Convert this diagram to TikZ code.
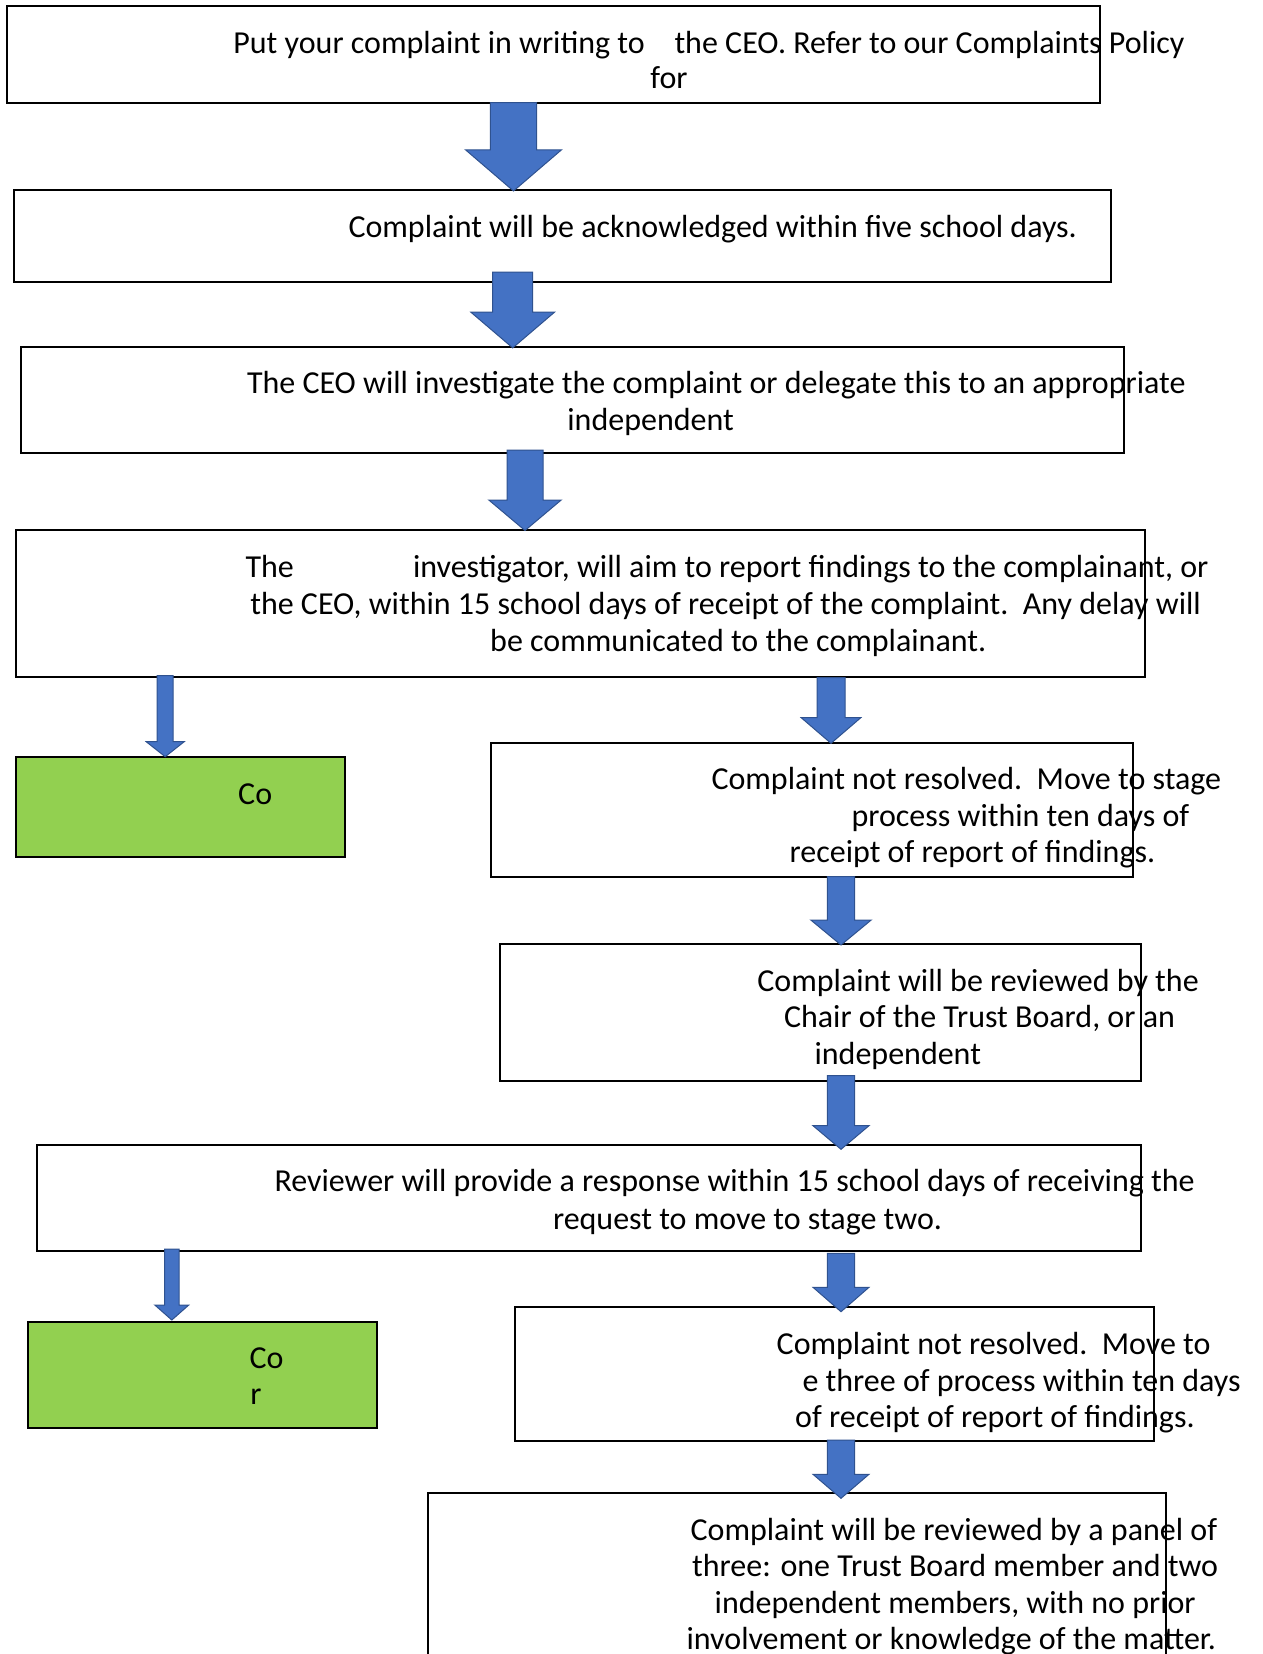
\documentclass[tikz,border=0pt]{standalone}
\usepackage{fontspec}
\setmainfont{Carlito}
\usetikzlibrary{calc}
\definecolor{arrfill}{HTML}{4472C4}
\definecolor{arrline}{HTML}{2F528F}
\definecolor{greenbox}{HTML}{92D050}
\tikzset{
  box/.style={draw=black, line width=2pt, fill=white, anchor=north west, inner sep=0pt, outer sep=0pt},
  gbox/.style={box, fill=greenbox},
  txt/.style={anchor=base west, inner sep=0pt, outer sep=0pt, font=\fontsize{32}{38}\selectfont},
  blockarr/.style={fill=arrfill, draw=arrline, line width=1pt, line join=miter},
}
% #1 x, #2 from node, #3 start offset, #4 to node, #5 shaft half width, #6 head half width, #7 head length, #8 tip offset
\newcommand\barrow[8]{%
  \draw[blockarr] let \p1=(#1,0 |- #2.south), \p2=(#1,0 |- #4.north) in
  ({\x1-#5pt},{\y1-(#3)*1pt}) -- ({\x1-#5pt},{\y2-(#8)*1pt+#7pt}) -- ({\x1-#6pt},{\y2-(#8)*1pt+#7pt})
  -- ({\x1},{\y2-(#8)*1pt}) -- ({\x1+#6pt},{\y2-(#8)*1pt+#7pt}) -- ({\x1+#5pt},{\y2-(#8)*1pt+#7pt})
  -- ({\x1+#5pt},{\y1-(#3)*1pt}) -- cycle;}
\begin{document}
\begin{tikzpicture}[x=1pt,y=-1pt]
\useasboundingbox (0,0) rectangle (1262,1654);
\clip (0,0) rectangle (1262,1654);
% boxes
\node[box, minimum width=1093pt, minimum height=96.5pt] (b1) at (6.5,6) {};
\node[box, minimum width=1097pt, minimum height=91.4pt] (b2) at (13.7,190.3) {};
\node[box, minimum width=1103.5pt, minimum height=106pt] (b3) at (20.9,346.7) {};
\node[box, minimum width=1128.5pt, minimum height=146.7pt] (b4) at (16.1,530) {};
\node[gbox, minimum width=328.4pt, minimum height=100pt] (g1) at (16.1,757.3) {};
\node[box, minimum width=641.5pt, minimum height=134pt] (b5) at (491,742.7) {};
\node[box, minimum width=640.7pt, minimum height=136.4pt] (b6) at (499.8,944.3) {};
\node[box, minimum width=1103.5pt, minimum height=105.7pt] (b7) at (37,1145) {};
\node[gbox, minimum width=348.5pt, minimum height=106.6pt] (g2) at (28.2,1321.7) {};
\node[box, minimum width=639pt, minimum height=134pt] (b8) at (515.1,1306.7) {};
\node[box, minimum width=737.3pt, minimum height=220pt] (b9) at (428.2,1492.7) {};
% arrows
\barrow{513.5}{b1}{0}{b2}{23.2}{48}{41.2}{0.7}
\barrow{512.7}{b2}{-9.7}{b3}{20}{41.8}{35.7}{1.2}
\barrow{525}{b3}{-2.7}{b4}{18}{36.2}{30.5}{0.5}
\barrow{165.2}{b4}{-1}{g1}{8}{19}{15}{-0.6}
\barrow{831}{b4}{1}{b5}{14}{29.8}{25.6}{0.6}
\barrow{841}{b5}{0}{b6}{13.7}{30.2}{25}{0.7}
\barrow{841}{b6}{-5}{b7}{13.7}{28}{23.6}{4.3}
\barrow{171.8}{b7}{-1.7}{g2}{7.3}{17}{15}{-1.7}
\barrow{841}{b7}{2.6}{b8}{13.7}{28}{24.4}{5}
\barrow{841}{b8}{-0.7}{b9}{13.7}{28}{24}{5.6}
% texts
\node[txt] (t1a) at (233.4,53.3) {Put your complaint in writing to};
\node[txt] (t1b) at (674.5,53.3) {the CEO. Refer to our Complaints Policy};
\node[txt] (t1c) at (650.4,88.6) {for};
\node[txt] (t2) at (348.5,237.7) {Complaint will be acknowledged within five school days.};
\node[txt] (t3a) at (247,393.3) {The CEO will investigate the complaint or delegate this to an appropriate};
\node[txt] (t3b) at (567.4,430) {independent};
\node[txt] (t4a) at (245.5,577.7) {The};
\node[txt] (t4b) at (413,577.7) {investigator, will aim to report findings to the complainant, or};
\node[txt] (t4c) at (250.3,614.3) {the CEO, within 15 school days of receipt of the complaint.\ \ Any delay will};
\node[txt] (t4d) at (490.2,651.7) {be communicated to the complainant.};
\node[txt] (tg1) at (238.2,804.3) {Co};
\node[txt] (t5a) at (711.5,789.3) {Complaint not resolved.\ \ Move to stage};
\node[txt] (t5b) at (851.6,826.7) {process within ten days of};
\node[txt] (t5c) at (789.6,862.7) {receipt of report of findings.};
\node[txt] (t6a) at (757.4,991) {Complaint will be reviewed by the};
\node[txt] (t6b) at (784,1027.7) {Chair of the Trust Board, or an};
\node[txt] (t6c) at (814.6,1064.3) {independent};
\node[txt] (t7a) at (274.5,1191.7) {Reviewer will provide a response within 15 school days of receiving the};
\node[txt] (t7b) at (553,1229) {request to move to stage two.};
\node[txt] (tg2a) at (249.5,1368.3) {Co};
\node[txt] (tg2b) at (250.3,1404.3) {r};
\node[txt] (t8a) at (776.7,1354.3) {Complaint not resolved.\ \ Move to};
\node[txt] (t8b) at (802.5,1391) {e three of process within ten days};
\node[txt] (t8c) at (795.2,1427.7) {of receipt of report of findings.};
\node[txt] (t9a) at (690.6,1540) {Complaint will be reviewed by a panel of};
\node[txt] (t9b) at (692.2,1576.7) {three: one Trust Board member and two};
\node[txt] (t9c) at (714.7,1613.3) {independent members, with no prior};
\node[txt] (t9d) at (686.6,1649) {involvement or knowledge of the matter.};
\end{tikzpicture}
\end{document}
